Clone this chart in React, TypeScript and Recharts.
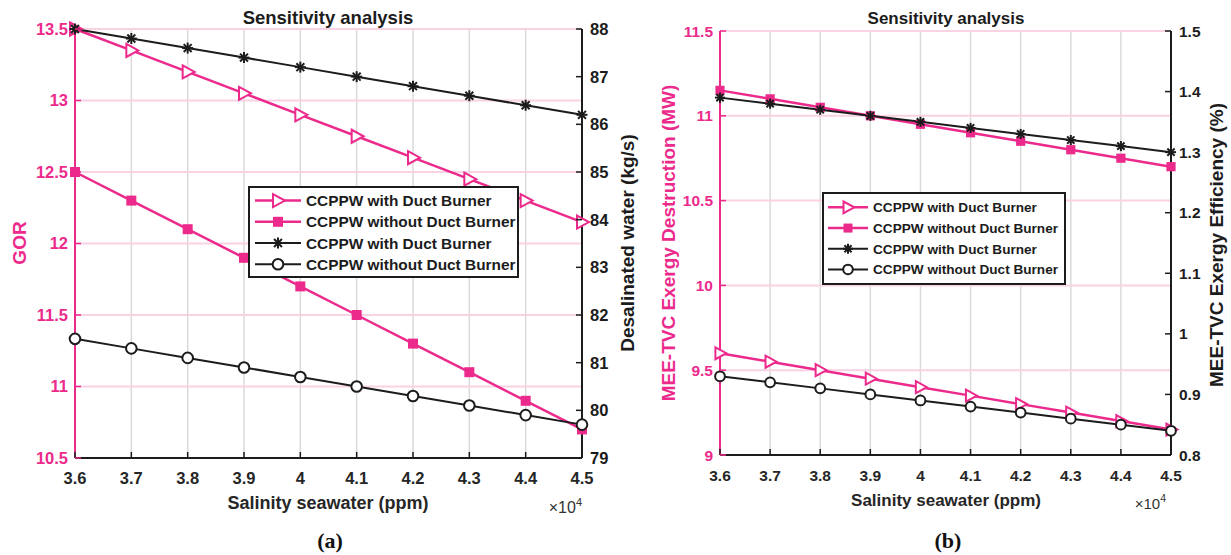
import React from "react";
import { ComposedChart, Line, XAxis, YAxis, CartesianGrid } from "recharts";

// Salinity sweep (ppm), same for both panels
const salinity = [36000, 37000, 38000, 39000, 40000, 41000, 42000, 43000, 44000, 45000];

// (a) GOR (left) and desalinated water kg/s (right)
const gorWithDB = [13.5, 13.35, 13.2, 13.05, 12.9, 12.75, 12.6, 12.45, 12.3, 12.15];
const gorWithoutDB = [12.5, 12.3, 12.1, 11.9, 11.7, 11.5, 11.3, 11.1, 10.9, 10.7];
const waterWithDB = [88, 87.8, 87.6, 87.4, 87.2, 87.0, 86.8, 86.6, 86.4, 86.2];
const waterWithoutDB = [81.5, 81.3, 81.1, 80.9, 80.7, 80.5, 80.3, 80.1, 79.9, 79.7];

// (b) exergy destruction MW (left) and exergy efficiency % (right)
const exDestWithDB = [9.6, 9.55, 9.5, 9.45, 9.4, 9.35, 9.3, 9.25, 9.2, 9.15];
const exDestWithoutDB = [11.15, 11.1, 11.05, 11.0, 10.95, 10.9, 10.85, 10.8, 10.75, 10.7];
const exEffWithDB = [1.39, 1.38, 1.37, 1.36, 1.35, 1.34, 1.33, 1.32, 1.31, 1.3];
const exEffWithoutDB = [0.93, 0.92, 0.91, 0.9, 0.89, 0.88, 0.87, 0.86, 0.85, 0.84];

const gorTicks = [10.5, 11, 11.5, 12, 12.5, 13, 13.5];
const waterTicks = [79, 80, 81, 82, 83, 84, 85, 86, 87, 88];
const destTicks = [9, 9.5, 10, 10.5, 11, 11.5];
const effTicks = [0.8, 0.9, 1, 1.1, 1.2, 1.3, 1.4, 1.5];

const legendLabels = [
  "CCPPW with Duct Burner",
  "CCPPW without Duct Burner",
  "CCPPW with Duct Burner",
  "CCPPW without Duct Burner",
];

const PINK = "#EC2A8C";
const PINK_GRID = "#F9D2E4";
const GRAY_GRID = "#DADADA";
const INK = "#1c1c1c";
const FONT = '"Liberation Sans", Arial, Helvetica, sans-serif';

const dataA = salinity.map((s, i) => ({ s, p1: gorWithDB[i], p2: gorWithoutDB[i], k1: waterWithDB[i], k2: waterWithoutDB[i] }));
const dataB = salinity.map((s, i) => ({ s, p1: exDestWithDB[i], p2: exDestWithoutDB[i], k1: exEffWithDB[i], k2: exEffWithoutDB[i] }));

type Kind = "tri" | "sq" | "star" | "circ";
const kinds: Kind[] = ["tri", "sq", "star", "circ"];
const kindColors = [PINK, PINK, INK, INK];

function Marker({ kind, cx, cy, color, s = 1 }: { kind: Kind; cx?: number; cy?: number; color: string; s?: number }) {
  if (cx == null || cy == null) return null;
  if (kind === "tri")
    return (
      <polygon
        points={`${cx - 5 * s},${cy - 6.5 * s} ${cx + 7 * s},${cy} ${cx - 5 * s},${cy + 6.5 * s}`}
        fill="#fff"
        stroke={color}
        strokeWidth={2}
      />
    );
  if (kind === "sq") return <rect x={cx - 5 * s} y={cy - 5 * s} width={10 * s} height={10 * s} fill={color} />;
  if (kind === "star") {
    const r = 5.5 * s;
    const d = r * 0.72;
    return (
      <g stroke={color} strokeWidth={2}>
        <line x1={cx - r} x2={cx + r} y1={cy} y2={cy} />
        <line x1={cx} x2={cx} y1={cy - r} y2={cy + r} />
        <line x1={cx - d} y1={cy - d} x2={cx + d} y2={cy + d} />
        <line x1={cx - d} y1={cy + d} x2={cx + d} y2={cy - d} />
      </g>
    );
  }
  return <circle cx={cx} cy={cy} r={5.3 * s} fill="#fff" stroke={color} strokeWidth={2} />;
}

const dotOf = (kind: Kind, color: string, s: number) => (p: any) =>
  <Marker key={`${kind}-${p.index}`} kind={kind} cx={p.cx} cy={p.cy} color={color} s={s} />;

const fmt = (v: number) => String(Math.round(v * 100) / 100);

type PanelProps = {
  left: number;
  width: number;
  margin: { top: number; right: number; bottom: number; left: number };
  data: any[];
  yL: { domain: number[]; ticks: number[]; width: number };
  yR: { domain: number[]; ticks: number[]; width: number };
  tickSize: number;
  s: number;
};

function Panel({ left, width, margin, data, yL, yR, tickSize, s }: PanelProps) {
  const label = (x: number, y: number, text: string, anchor: string, fill: string) => (
    <text x={x} y={y} dy="0.36em" textAnchor={anchor as any} fill={fill} fontSize={tickSize} fontWeight="bold" fontFamily={FONT}>
      {text}
    </text>
  );
  return (
    <div style={{ position: "absolute", left, top: 0 }}>
      <ComposedChart width={width} height={555} data={data} margin={margin}>
        <CartesianGrid xAxisId="bottom" yAxisId="left" horizontal={false} stroke={GRAY_GRID} strokeWidth={1.5} />
        <CartesianGrid xAxisId="bottom" yAxisId="left" vertical={false} stroke={PINK_GRID} strokeWidth={2} />
        <XAxis
          xAxisId="bottom"
          dataKey="s"
          type="number"
          domain={[36000, 45000]}
          ticks={salinity}
          interval={0}
          height={30}
          tickSize={0}
          tickMargin={0}
          tickLine={false}
          axisLine={{ stroke: INK, strokeWidth: 2 }}
          tick={(p: any) => (
            <g key={`b-${p.index}`}>
              <line x1={p.x} x2={p.x} y1={p.y} y2={p.y - 6} stroke={INK} strokeWidth={1.5} />
              <text x={p.x} y={p.y + 26} textAnchor="middle" fill="#262626" fontSize={tickSize} fontWeight="bold" fontFamily={FONT}>
                {fmt(p.payload.value / 10000)}
              </text>
            </g>
          )}
        />
        <XAxis
          xAxisId="top"
          dataKey="s"
          type="number"
          orientation="top"
          domain={[36000, 45000]}
          ticks={salinity}
          interval={0}
          height={0}
          tickSize={0}
          tickMargin={0}
          tickLine={false}
          axisLine={{ stroke: INK, strokeWidth: 2 }}
          tick={(p: any) => (
            <line key={`t-${p.index}`} x1={p.x} x2={p.x} y1={p.y} y2={p.y + 6} stroke={INK} strokeWidth={1.5} />
          )}
        />
        <YAxis
          yAxisId="left"
          type="number"
          domain={yL.domain}
          ticks={yL.ticks}
          interval={0}
          width={yL.width}
          tickSize={0}
          tickMargin={0}
          tickLine={false}
          axisLine={{ stroke: PINK, strokeWidth: 2 }}
          tick={(p: any) => (
            <g key={`l-${p.index}`}>
              <line x1={p.x} x2={p.x + 6} y1={p.y} y2={p.y} stroke={PINK} strokeWidth={1.5} />
              {label(p.x - 7, p.y, fmt(p.payload.value), "end", PINK)}
            </g>
          )}
        />
        <YAxis
          yAxisId="right"
          orientation="right"
          type="number"
          domain={yR.domain}
          ticks={yR.ticks}
          interval={0}
          width={yR.width}
          tickSize={0}
          tickMargin={0}
          tickLine={false}
          axisLine={{ stroke: INK, strokeWidth: 2 }}
          tick={(p: any) => (
            <g key={`r-${p.index}`}>
              <line x1={p.x - 6} x2={p.x} y1={p.y} y2={p.y} stroke={INK} strokeWidth={1.5} />
              {label(p.x + 8, p.y, fmt(p.payload.value), "start", INK)}
            </g>
          )}
        />
        <Line xAxisId="bottom" yAxisId="left" dataKey="p1" stroke={PINK} strokeWidth={2.5} dot={dotOf("tri", PINK, s)} isAnimationActive={false} />
        <Line xAxisId="bottom" yAxisId="left" dataKey="p2" stroke={PINK} strokeWidth={2.5} dot={dotOf("sq", PINK, s)} isAnimationActive={false} />
        <Line xAxisId="bottom" yAxisId="right" dataKey="k1" stroke={INK} strokeWidth={2} dot={dotOf("star", INK, s)} isAnimationActive={false} />
        <Line xAxisId="bottom" yAxisId="right" dataKey="k2" stroke={INK} strokeWidth={2} dot={dotOf("circ", INK, s)} isAnimationActive={false} />
      </ComposedChart>
    </div>
  );
}

function LegendBox({ x, y, w, h, rowH, padTop, x0, x1, tx, fontSize, s }: any) {
  return (
    <g>
      <rect x={x} y={y} width={w} height={h} fill="#fff" stroke={INK} strokeWidth={2} />
      {legendLabels.map((lab, i) => {
        const cy = y + padTop + rowH * (i + 0.5);
        const c = kindColors[i];
        return (
          <g key={i}>
            <line x1={x + x0} x2={x + x1} y1={cy} y2={cy} stroke={c} strokeWidth={i < 2 ? 2.5 : 2} />
            <Marker kind={kinds[i]} cx={x + (x0 + x1) / 2} cy={cy} color={c} s={s} />
            <text x={x + tx} y={cy} dy="0.36em" fill={INK} fontSize={fontSize} fontWeight="bold" fontFamily={FONT}>
              {lab}
            </text>
          </g>
        );
      })}
    </g>
  );
}

export default function App() {
  const t = { fontFamily: FONT, fontWeight: "bold" as const };
  return (
    <div style={{ position: "absolute", left: 0, top: 0, width: 1231, height: 555, background: "#fff", overflow: "hidden" }}>
      <Panel
        left={0}
        width={640}
        margin={{ top: 29, right: 0, bottom: 67, left: 0 }}
        data={dataA}
        yL={{ domain: [10.5, 13.5], ticks: gorTicks, width: 75 }}
        yR={{ domain: [79, 88], ticks: waterTicks, width: 58 }}
        tickSize={16.5}
        s={1}
      />
      <Panel
        left={640}
        width={591}
        margin={{ top: 31, right: 0, bottom: 70, left: 0 }}
        data={dataB}
        yL={{ domain: [9, 11.5], ticks: destTicks, width: 80 }}
        yR={{ domain: [0.8, 1.5], ticks: effTicks, width: 60 }}
        tickSize={15.5}
        s={0.92}
      />
      <svg width={1231} height={555} style={{ position: "absolute", left: 0, top: 0, pointerEvents: "none" }}>
        <text x={328} y={24} textAnchor="middle" fontSize={18.5} fill={INK} {...t}>Sensitivity analysis</text>
        <text x={946} y={24} textAnchor="middle" fontSize={17} fill={INK} {...t}>Sensitivity analysis</text>

        <text x={328} y={509} textAnchor="middle" fontSize={18} fill="#262626" {...t}>Salinity seawater (ppm)</text>
        <text x={946} y={506} textAnchor="middle" fontSize={17} fill="#262626" {...t}>Salinity seawater (ppm)</text>

        <text x={582} y={513} textAnchor="end" fontSize={16} fill="#333" fontFamily={FONT}>
          ×10<tspan dy={-7} fontSize={11}>4</tspan>
        </text>
        <text x={1166} y={509} textAnchor="end" fontSize={15} fill="#333" fontFamily={FONT}>
          ×10<tspan dy={-7} fontSize={10.5}>4</tspan>
        </text>

        <text transform="translate(19,243) rotate(-90)" textAnchor="middle" dominantBaseline="central" fontSize={19} fill={PINK} {...t}>GOR</text>
        <text transform="translate(627,243) rotate(-90)" textAnchor="middle" dominantBaseline="central" fontSize={19} fill={INK} {...t}>Desalinated water (kg/s)</text>
        <text transform="translate(668,243) rotate(-90)" textAnchor="middle" dominantBaseline="central" fontSize={19} fill={PINK} {...t}>MEE-TVC Exergy Destruction (MW)</text>
        <text transform="translate(1216,245) rotate(-90)" textAnchor="middle" dominantBaseline="central" fontSize={19} fill={INK} {...t}>MEE-TVC Exergy Efficiency (%)</text>

        <LegendBox x={249} y={187} w={269} h={90} rowH={21.2} padTop={3} x0={6} x1={52} tx={57} fontSize={15.4} s={1} />
        <LegendBox x={823} y={193} w={242} h={91} rowH={20.7} padTop={4} x0={5} x1={45} tx={50} fontSize={13.6} s={0.9} />

        <text x={330} y={548} textAnchor="middle" fontSize={22} fontWeight="bold" fontFamily='"Liberation Serif", "Times New Roman", serif' fill="#111">(a)</text>
        <text x={948} y={548} textAnchor="middle" fontSize={22} fontWeight="bold" fontFamily='"Liberation Serif", "Times New Roman", serif' fill="#111">(b)</text>
      </svg>
    </div>
  );
}
